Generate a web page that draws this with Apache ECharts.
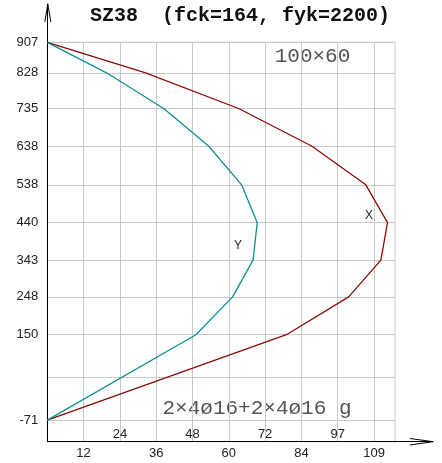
<!DOCTYPE html>
<html>
<head>
<meta charset="utf-8">
<script src="https://cdn.jsdelivr.net/npm/echarts@6/dist/echarts.min.js"></script>
<style>
  html, body { margin: 0; padding: 0; background: #fff; }
  #chart { width: 442px; height: 463px; }
</style>
</head>
<body>
<div id="chart"></div>
<script>
// Section levels (vertical axis) shared by both capacity curves
const levels = [907, 828, 735, 638, 538, 440, 343, 248, 150, -71];
// Capacity along X and along Y at each level
const capacityX = [0, 32.7, 63.8, 88.0, 105.9, 113.1, 110.9, 100.2, 79.5, 0];
const capacityY = [0, 19.7, 38.8, 53.7, 64.6, 69.8, 68.4, 61.6, 49.4, 0];

// Vertical axis ticks (the 40 line carries no label)
const yTickValues = [907, 828, 735, 638, 538, 440, 343, 248, 150, 40, -71];
const yTickLabels = ['907', '828', '735', '638', '538', '440', '343', '248', '150', '', '-71'];

// Horizontal axis ticks: evenly spaced, labels alternate below / above the axis line
const xStep = 12.07;
const xTickLabels = ['12', '24', '36', '48', '60', '72', '84', '97', '109'];

const titleText = 'SZ38  (fck=164, fyk=2200)';
const sectionText = '100×60';
const rebarText = '2×4ø16+2×4ø16 g';

const xTicks = xTickLabels.map((_, i) => +(xStep * (i + 1)).toFixed(3));
const xTicksLow = xTicks.filter((_, i) => i % 2 === 0);
const xTicksHigh = xTicks.filter((_, i) => i % 2 === 1);
const xLabel = v => xTickLabels[Math.round(v / xStep) - 1] || '';
const yLabel = v => {
  const i = yTickValues.indexOf(v);
  return i >= 0 ? yTickLabels[i] : '';
};

const gridColor = '#c8c8c8';
const textColor = '#222';
const labelFont = { fontFamily: 'Liberation Sans', fontSize: 13, color: textColor };

const chart = echarts.init(document.getElementById('chart'), null, { renderer: 'canvas' });

chart.setOption({
  backgroundColor: '#fff',
  animation: false,
  grid: [
    { left: 47.3, top: 42.3, width: 347.7, height: 399.4, show: true,
      borderColor: gridColor, borderWidth: 1, backgroundColor: 'transparent' },
    { left: 47.3, top: 4, right: 9, bottom: 21.3 }
  ],
  xAxis: [
    {
      gridIndex: 0, type: 'value', min: 0, max: 115.6,
      axisLine: { show: false },
      axisTick: { show: false, customValues: xTicks },
      splitLine: { show: true, lineStyle: { color: gridColor, width: 1 } },
      axisLabel: Object.assign({ customValues: xTicksLow, formatter: xLabel, margin: 5 }, labelFont)
    },
    {
      gridIndex: 0, type: 'value', min: 0, max: 115.6, position: 'bottom',
      axisLine: { show: false },
      axisTick: { show: false, customValues: xTicksHigh },
      splitLine: { show: false },
      axisLabel: Object.assign({ customValues: xTicksHigh, formatter: xLabel, inside: true, margin: 1 }, labelFont)
    },
    {
      gridIndex: 1, type: 'value', min: 0, max: 1,
      axisLine: { show: true, lineStyle: { color: '#000', width: 1 } },
      axisTick: { show: false }, axisLabel: { show: false }, splitLine: { show: false }
    }
  ],
  yAxis: [
    {
      gridIndex: 0, type: 'value', min: -127, max: 907,
      axisLine: { show: false },
      axisTick: { show: false, customValues: yTickValues },
      splitLine: { show: true, lineStyle: { color: gridColor, width: 1 } },
      axisLabel: Object.assign({ customValues: yTickValues.filter((_, i) => yTickLabels[i] !== ''),
        formatter: yLabel, margin: 9 }, labelFont)
    },
    {
      gridIndex: 1, type: 'value', min: 0, max: 1,
      axisLine: { show: true, lineStyle: { color: '#000', width: 1 } },
      axisTick: { show: false }, axisLabel: { show: false }, splitLine: { show: false }
    }
  ],
  series: [
    {
      name: 'X', type: 'line', xAxisIndex: 0, yAxisIndex: 0,
      data: levels.map((lv, i) => [capacityX[i], lv]),
      symbol: 'none', lineStyle: { color: '#8b0a0a', width: 1.3 }, z: 3
    },
    {
      name: 'Y', type: 'line', xAxisIndex: 0, yAxisIndex: 0,
      data: levels.map((lv, i) => [capacityY[i], lv]),
      symbol: 'none', lineStyle: { color: '#0e8f8f', width: 1.3 }, z: 3
    }
  ],
  graphic: [
    // open arrowheads at the ends of both axes
    { type: 'polyline', shape: { points: [[44.8, 22], [47.8, 4], [50.8, 22]] },
      style: { stroke: '#000', lineWidth: 1, fill: null }, z: 10 },
    { type: 'polyline', shape: { points: [[410, 438.5], [433, 441.7], [410, 445]] },
      style: { stroke: '#000', lineWidth: 1, fill: null }, z: 10 },
    { type: 'text', x: 240, y: 15.5,
      style: { text: titleText, fontFamily: 'Liberation Mono', fontWeight: 'bold', fontSize: 20,
        fill: '#111', textAlign: 'center', textVerticalAlign: 'middle' } },
    { type: 'text', x: 312.5, y: 56.5,
      style: { text: sectionText, fontFamily: 'Liberation Mono', fontSize: 21,
        fill: '#555', textAlign: 'center', textVerticalAlign: 'middle' } },
    { type: 'text', x: 257, y: 408.5,
      style: { text: rebarText, fontFamily: 'Liberation Mono', fontSize: 21,
        fill: '#555', textAlign: 'center', textVerticalAlign: 'middle' } },
    { type: 'text', x: 369, y: 216,
      style: { text: 'X', fontFamily: 'Liberation Sans', fontSize: 12,
        fill: textColor, textAlign: 'center', textVerticalAlign: 'middle' } },
    { type: 'text', x: 238, y: 246,
      style: { text: 'Y', fontFamily: 'Liberation Sans', fontSize: 12,
        fill: textColor, textAlign: 'center', textVerticalAlign: 'middle' } }
  ]
});
</script>
</body>
</html>
